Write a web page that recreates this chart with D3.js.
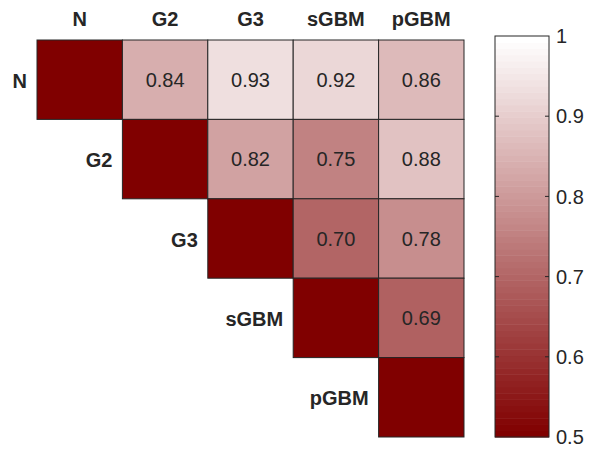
<!DOCTYPE html>
<html>
<head>
<meta charset="utf-8">
<script src="https://cdn.jsdelivr.net/npm/d3@7/dist/d3.min.js"></script>
<style>
  html, body { margin: 0; padding: 0; background: #ffffff; }
  svg { display: block; font-family: "Liberation Sans", Arial, sans-serif; }
</style>
</head>
<body>
<svg id="chart" width="589" height="453"></svg>
<script>
// Group labels, used for both rows and columns
const groups = ["N", "G2", "G3", "sGBM", "pGBM"];

// Upper-triangle similarity values, one array per row (columns to the right of the diagonal)
const rowN    = [0.84, 0.93, 0.92, 0.86];
const rowG2   = [0.82, 0.75, 0.88];
const rowG3   = [0.70, 0.78];
const rowSGBM = [0.69];
const rowPGBM = [];
const upperRows = [rowN, rowG2, rowG3, rowSGBM, rowPGBM];

// Diagonal cells are not compared and take the bottom colour of the scale
const diagonalValue = null;

// Colour bar range and ticks
const colorDomain = [0.5, 1];
const colorTicks = [0.5, 0.6, 0.7, 0.8, 0.9, 1];
const colorTickLabels = ["0.5", "0.6", "0.7", "0.8", "0.9", "1"];
const colorLevels = 64;

// Build the cell table from the arrays above
const cells = [];
groups.forEach((rowName, i) => {
  cells.push({ row: rowName, col: rowName, value: diagonalValue, diag: true });
  upperRows[i].forEach((v, k) => {
    cells.push({ row: rowName, col: groups[i + 1 + k], value: v, diag: false });
  });
});

const svg = d3.select("#chart");
const textColor = "#262626";
const edgeColor = "#262626";

const x = d3.scaleBand().domain(groups).range([37, 464]);
const y = d3.scaleBand().domain(groups).range([40, 437]);

// Indexed colormap from dark red to white
const ramp = d3.interpolateRgb("#800000", "#ffffff");
const tScale = d3.scaleLinear().domain(colorDomain).range([0, 1]).clamp(true);
function colorOf(v) {
  const t = v == null ? 0 : tScale(v);
  const idx = Math.min(Math.floor(t * colorLevels), colorLevels - 1);
  return ramp(idx / (colorLevels - 1));
}

// Heatmap cells
svg.append("g").selectAll("rect")
  .data(cells)
  .join("rect")
  .attr("x", d => x(d.col))
  .attr("y", d => y(d.row))
  .attr("width", x.bandwidth())
  .attr("height", y.bandwidth())
  .attr("fill", d => colorOf(d.value))
  .attr("stroke", edgeColor)
  .attr("stroke-width", 1);

// Values printed in the off-diagonal cells
svg.append("g").selectAll("text")
  .data(cells.filter(d => !d.diag))
  .join("text")
  .attr("x", d => x(d.col) + x.bandwidth() / 2)
  .attr("y", d => y(d.row) + y.bandwidth() / 2)
  .attr("dy", "0.36em")
  .attr("text-anchor", "middle")
  .attr("font-size", 20)
  .attr("fill", textColor)
  .text(d => d3.format(".2f")(d.value));

// Column headers above the grid
svg.append("g").selectAll("text")
  .data(groups)
  .join("text")
  .attr("x", d => x(d) + x.bandwidth() / 2)
  .attr("y", 26)
  .attr("text-anchor", "middle")
  .attr("font-size", 20)
  .attr("font-weight", "bold")
  .attr("fill", textColor)
  .text(d => d);

// Row headers placed just left of each diagonal cell
svg.append("g").selectAll("text")
  .data(groups)
  .join("text")
  .attr("x", d => x(d) - 10)
  .attr("y", d => y(d) + y.bandwidth() / 2)
  .attr("dy", "0.4em")
  .attr("text-anchor", "end")
  .attr("font-size", 20)
  .attr("font-weight", "bold")
  .attr("fill", textColor)
  .text(d => d);

// Colour bar
const barX = 495, barW = 54;
const cb = d3.scaleLinear().domain(colorDomain).range([437, 36]);
const levels = d3.range(colorLevels);
const bar = svg.append("g");
bar.selectAll("rect.level")
  .data(levels)
  .join("rect")
  .attr("class", "level")
  .attr("x", barX)
  .attr("width", barW)
  .attr("y", i => cb(colorDomain[0] + (i + 1) * (colorDomain[1] - colorDomain[0]) / colorLevels))
  .attr("height", i => cb(colorDomain[0] + i * (colorDomain[1] - colorDomain[0]) / colorLevels)
                      - cb(colorDomain[0] + (i + 1) * (colorDomain[1] - colorDomain[0]) / colorLevels) + 0.5)
  .attr("fill", i => ramp(i / (colorLevels - 1)));

bar.append("rect")
  .attr("x", barX)
  .attr("y", cb(colorDomain[1]))
  .attr("width", barW)
  .attr("height", cb(colorDomain[0]) - cb(colorDomain[1]))
  .attr("fill", "none")
  .attr("stroke", edgeColor)
  .attr("stroke-width", 1);

// Inward tick marks on both sides of the bar
const inner = colorTicks.slice(1, -1);
bar.selectAll("line.tl")
  .data(inner)
  .join("line")
  .attr("class", "tl")
  .attr("x1", barX).attr("x2", barX + 4)
  .attr("y1", d => cb(d)).attr("y2", d => cb(d))
  .attr("stroke", edgeColor);
bar.selectAll("line.tr")
  .data(inner)
  .join("line")
  .attr("class", "tr")
  .attr("x1", barX + barW - 4).attr("x2", barX + barW)
  .attr("y1", d => cb(d)).attr("y2", d => cb(d))
  .attr("stroke", edgeColor);

bar.selectAll("text")
  .data(colorTicks)
  .join("text")
  .attr("x", barX + barW + 7)
  .attr("y", d => cb(d))
  .attr("dy", "0.36em")
  .attr("font-size", 20)
  .attr("fill", textColor)
  .text((d, i) => colorTickLabels[i]);
</script>
</body>
</html>
